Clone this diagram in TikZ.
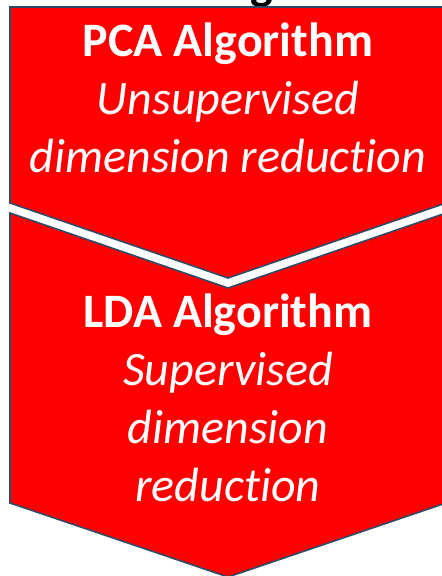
\documentclass[tikz,border=0pt]{standalone}
\usepackage{fontspec}
\setmainfont[Ligatures=NoCommon]{Carlito}
\usepackage{tikz}
\usetikzlibrary{positioning}
\definecolor{chevred}{RGB}{255,0,0}
\definecolor{edgeblue}{RGB}{46,74,104}

\begin{document}
\begin{tikzpicture}[
  x=1pt, y=-1pt,
  chev/.style={draw=edgeblue, line width=1.6pt, fill=chevred, line join=miter},
  txt/.style={text=white, align=center, font=\fontsize{48}{58}\selectfont}
]
\useasboundingbox (0,0) rectangle (442,576);
\node[font=\bfseries\fontsize{48}{58}\selectfont, anchor=base] (head) at (262,-1) {g};
\draw[chev] (10,7) -- (446,7) -- (446,203) -- (228,278) -- (10,203) -- cycle;
\draw[chev] (10,213) -- (228,288) -- (446,213) -- (446,503) -- (228,577) -- (10,503) -- cycle;
\node[txt] (pca) at (228,98) {\textbf{PCA Algorithm}\\\textit{Unsupervised}\\\textit{dimension reduction}};
\node[txt] (lda) at (228,398) {\textbf{LDA Algorithm}\\\textit{Supervised}\\\textit{dimension}\\\textit{reduction}};
\end{tikzpicture}
\end{document}
